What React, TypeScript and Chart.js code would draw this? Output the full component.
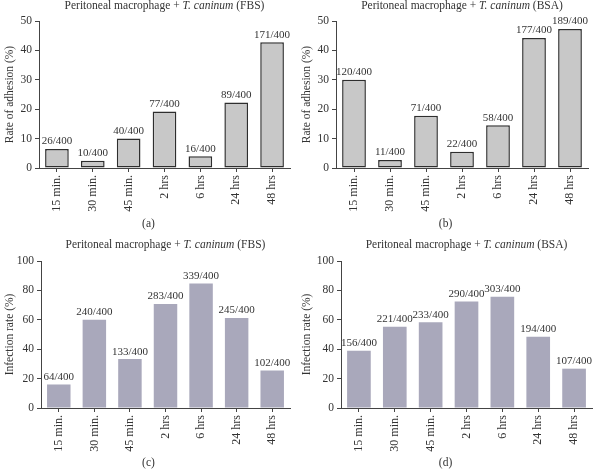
import React, { useEffect, useRef } from "react";
import { Chart, registerables } from "chart.js";

Chart.register(...registerables);

const timeLabels = ["15 min.", "30 min.", "45 min.", "2 hrs", "6 hrs", "24 hrs", "48 hrs"];

const adhesionFBS = [6.5, 2.5, 10, 19.25, 4, 22.25, 42.75];
const adhesionFBSLabels = ["26/400", "10/400", "40/400", "77/400", "16/400", "89/400", "171/400"];

const adhesionBSA = [30, 2.75, 17.75, 5.5, 14.5, 44.25, 47.25];
const adhesionBSALabels = ["120/400", "11/400", "71/400", "22/400", "58/400", "177/400", "189/400"];

const infectionFBS = [16, 60, 33.25, 70.75, 84.75, 61.25, 25.5];
const infectionFBSLabels = ["64/400", "240/400", "133/400", "283/400", "339/400", "245/400", "102/400"];

const infectionBSA = [39, 55.25, 58.25, 72.5, 75.75, 48.5, 26.75];
const infectionBSALabels = ["156/400", "221/400", "233/400", "290/400", "303/400", "194/400", "107/400"];

const FONT = "'Liberation Serif', 'DejaVu Serif', serif";
const TEXT = "#333333";
const AXIS = "#444444";

type PanelProps = {
  left: number;
  top: number;
  values: number[];
  barLabels: string[];
  medium: string;
  yTitle: string;
  yMax: number;
  yStep: number;
  caption: string;
  fill: string;
  border: string;
  borderWidth: number;
  yWidth: number;
  padTop: number;
  padRight: number;
  xHeight: number;
  titleY: number;
  captionY: number;
};

const W = 297;
const H = 235;

function Panel(p: PanelProps) {
  const ref = useRef<HTMLCanvasElement | null>(null);
  useEffect(() => {
    if (!ref.current) return;
    const overlay = {
      id: "overlay",
      afterDraw(chart: any) {
        const ctx = chart.ctx;
        const ca = chart.chartArea;
        ctx.save();
        ctx.fillStyle = TEXT;
        const parts: [string, string][] = [
          ["Peritoneal macrophage + ", `11.5px ${FONT}`],
          ["T. caninum", `italic 11.5px ${FONT}`],
          [` (${p.medium})`, `11.5px ${FONT}`],
        ];
        let total = 0;
        for (const [t, f] of parts) {
          ctx.font = f;
          total += ctx.measureText(t).width;
        }
        let x = (ca.left + ca.right) / 2 - total / 2;
        ctx.textBaseline = "alphabetic";
        ctx.textAlign = "left";
        for (const [t, f] of parts) {
          ctx.font = f;
          ctx.fillText(t, x, p.titleY);
          x += ctx.measureText(t).width;
        }
        ctx.font = `11px ${FONT}`;
        ctx.textAlign = "center";
        ctx.textBaseline = "bottom";
        const meta = chart.getDatasetMeta(0);
        meta.data.forEach((bar: any, i: number) => {
          ctx.fillText(p.barLabels[i], bar.x, bar.y - 2);
        });
        ctx.font = `11.5px ${FONT}`;
        ctx.textBaseline = "middle";
        ctx.fillText(p.caption, chart.width / 2, p.captionY);
        ctx.restore();
      },
    };
    const chart = new Chart(ref.current, {
      type: "bar",
      data: {
        labels: timeLabels,
        datasets: [
          {
            data: p.values,
            backgroundColor: p.fill,
            borderColor: p.border,
            borderWidth: p.borderWidth,
            borderSkipped: false,
            barPercentage: 0.66,
            categoryPercentage: 1,
          },
        ],
      },
      options: {
        responsive: false,
        animation: false,
        events: [],
        layout: { padding: { top: p.padTop, right: p.padRight, left: 0, bottom: 0 } },
        plugins: {
          legend: { display: false },
          title: { display: false },
          tooltip: { enabled: false },
        },
        scales: {
          x: {
            grid: {
              display: true,
              drawOnChartArea: false,
              drawTicks: true,
              tickLength: 4,
              offset: false,
              color: AXIS,
            },
            border: { display: true, color: AXIS, width: 1 },
            ticks: {
              autoSkip: false,
              maxRotation: 90,
              minRotation: 90,
              padding: 3,
              color: TEXT,
              font: { family: FONT, size: 12 },
            },
            afterFit: (s: any) => {
              s.height = p.xHeight;
            },
          },
          y: {
            min: 0,
            max: p.yMax,
            grid: {
              display: true,
              drawOnChartArea: false,
              drawTicks: true,
              tickLength: 4,
              color: AXIS,
            },
            border: { display: true, color: AXIS, width: 1 },
            ticks: {
              stepSize: p.yStep,
              padding: 3,
              color: TEXT,
              font: { family: FONT, size: 11.5 },
            },
            title: {
              display: true,
              text: p.yTitle,
              color: TEXT,
              font: { family: FONT, size: 11.5 },
              padding: { top: 3, bottom: 0 },
            },
            afterFit: (s: any) => {
              s.width = p.yWidth;
            },
          },
        },
      },
      plugins: [overlay],
    } as any);
    return () => chart.destroy();
  }, []);
  return (
    <div style={{ position: "absolute", left: p.left, top: p.top, width: W, height: H }}>
      <canvas ref={ref} width={W} height={H} style={{ width: W, height: H, display: "block" }} />
    </div>
  );
}

export default function App() {
  const gray = { fill: "#c8c8c8", border: "#2e2e2e", borderWidth: 1.5 };
  const purple = { fill: "#a9a8bb", border: "#a9a8bb", borderWidth: 0 };
  return (
    <div style={{ position: "fixed", left: 0, top: 0, width: 594, height: 470, background: "#ffffff" }}>
      <Panel
        left={0}
        top={0}
        values={adhesionFBS}
        barLabels={adhesionFBSLabels}
        medium="FBS"
        yTitle="Rate of adhesion (%)"
        yMax={50}
        yStep={10}
        caption="(a)"
        {...gray}
        yWidth={39}
        padTop={21}
        padRight={7}
        xHeight={67}
        titleY={9}
        captionY={224}
      />
      <Panel
        left={297}
        top={0}
        values={adhesionBSA}
        barLabels={adhesionBSALabels}
        medium="BSA"
        yTitle="Rate of adhesion (%)"
        yMax={50}
        yStep={10}
        caption="(b)"
        {...gray}
        yWidth={39}
        padTop={21}
        padRight={6}
        xHeight={67}
        titleY={9}
        captionY={224}
      />
      <Panel
        left={0}
        top={235}
        values={infectionFBS}
        barLabels={infectionFBSLabels}
        medium="FBS"
        yTitle="Infection rate (%)"
        yMax={100}
        yStep={20}
        caption="(c)"
        {...purple}
        yWidth={41}
        padTop={26}
        padRight={7}
        xHeight={62}
        titleY={13}
        captionY={228}
      />
      <Panel
        left={297}
        top={235}
        values={infectionBSA}
        barLabels={infectionBSALabels}
        medium="BSA"
        yTitle="Infection rate (%)"
        yMax={100}
        yStep={20}
        caption="(d)"
        {...purple}
        yWidth={44}
        padTop={26}
        padRight={2}
        xHeight={62}
        titleY={13}
        captionY={228}
      />
    </div>
  );
}
